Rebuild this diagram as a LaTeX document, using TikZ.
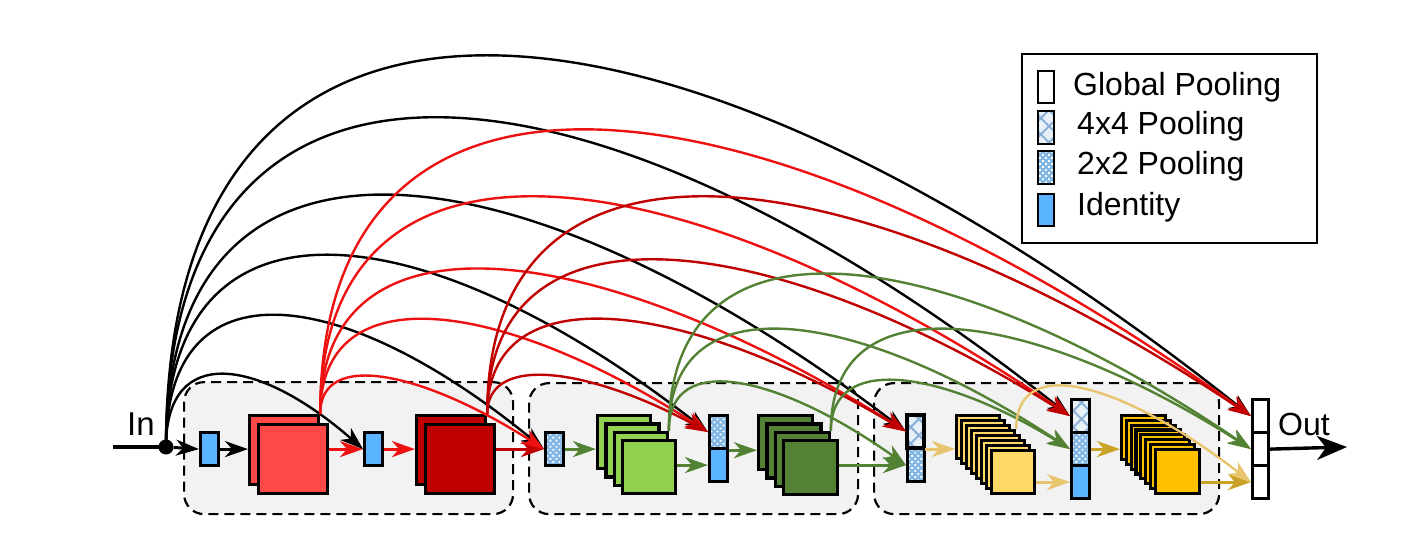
\documentclass[tikz,border=0pt]{standalone}
\usepackage{fontspec}
\setmainfont{Liberation Sans}
\usetikzlibrary{arrows.meta,calc,patterns.meta}
\definecolor{grpgray}{HTML}{F2F2F2}
\definecolor{idblue}{HTML}{5BB4FF}
\definecolor{poolblue}{HTML}{82B6E4}
\definecolor{hatchbg}{HTML}{E8F0F8}
\definecolor{hatchln}{HTML}{8AB0D8}
\definecolor{lred}{HTML}{FF4848}
\definecolor{dred}{HTML}{C00000}
\definecolor{lgreen}{HTML}{92D050}
\definecolor{dgreen}{HTML}{548235}
\definecolor{lylw}{HTML}{FFD966}
\definecolor{orng}{HTML}{FFC000}
\definecolor{arcred}{HTML}{EE1111}
\definecolor{arcdred}{HTML}{C00000}
\definecolor{arcgreen}{HTML}{548235}
\definecolor{arcylw}{HTML}{E8C46E}
\definecolor{arcgold}{HTML}{C9A227}
\newcommand{\skiparc}[4]{\draw[skiparc,#1] (#2) .. controls ($(#2)+(0,-1.4*#4)$) and ($(#2)!0.47!(#3)+(0,-1.22*#4)$) .. (#3);}
\tikzset{
  grp/.style={draw, dash pattern=on 10pt off 6pt, line width=2.2pt, rounded corners=20pt, fill=grpgray, anchor=north west, inner sep=0pt},
  sq/.style={draw, line width=3.2pt, inner sep=0pt, anchor=north west, minimum size=#1pt},
  rc/.style 2 args={draw, line width=3.2pt, inner sep=0pt, anchor=north west, minimum width=#1pt, minimum height=#2pt},
  ptwo/.style={preaction={fill=poolblue}, pattern={Dots[distance=4.3pt,radius=1.3pt,angle=45]}, pattern color=white},
  pfour/.style={preaction={fill=hatchbg}, pattern={Hatch[distance=11.5pt,angle=45,line width=2pt]}, pattern color=hatchln},
  skiparc/.style={line width=2.4pt, -{Stealth[length=23pt,width=16pt,inset=7pt]}},
  harr/.style={line width=3pt, -{Stealth[length=23pt,width=16pt,inset=7pt]}},
  lbl/.style={anchor=base west, inner sep=0pt, font=\fontsize{32}{38}\selectfont},
}
\begin{document}
\begin{tikzpicture}[x=1pt,y=-1pt]
\useasboundingbox (0,0) rectangle (1414,541);
% group boxes
\node[grp, minimum width=329pt, minimum height=132pt] (grp1) at (183,381) {};
\node[grp, minimum width=329pt, minimum height=131pt] (grp2) at (528,382) {};
\node[grp, minimum width=345pt, minimum height=131pt] (grp3) at (873,382) {};
% block 1
\node[rc={18}{33}, fill=idblue] (id1) at (199,431) {};
\node[sq=69, fill=lred] (rb) at (248,414) {};
\node[sq=69, fill=lred] (rf) at (257,423) {};
\node[rc={18}{33}, fill=idblue] (id2) at (363,431) {};
\node[sq=69, fill=dred] (db) at (415,414) {};
\node[sq=69, fill=dred] (df) at (424,423) {};
% block 2
\node[rc={18}{33}, ptwo] (pl2) at (544,431) {};
\foreach \i in {0,1,2,3} \node[sq=53, fill=lgreen] (g\i) at ({596+8.33*\i},{414+8.33*\i}) {};
\node[rc={18}{33}, ptwo] (t2a) at (708,414) {};
\node[rc={18}{33}, fill=idblue] (t2b) at (708,447) {};
\foreach \i in {0,1,2,3} \node[sq=54, fill=dgreen] (dg\i) at ({757+8.33*\i},{414+8.33*\i}) {};
% block 3
\node[rc={17}{33}, pfour] (b3a) at (906,414) {};
\node[rc={17}{33}, ptwo] (b3b) at (906,447) {};
\foreach \i in {0,...,7} \node[sq=43, fill=lylw] (ly\i) at ({955+5*\i},{414+5*\i}) {};
\node[rc={18}{33}, pfour] (t3a) at (1070,398) {};
\node[rc={18}{33}, ptwo] (t3b) at (1070,431) {};
\node[rc={18}{33}, fill=idblue] (t3c) at (1070,464) {};
\foreach \i in {0,...,7} \node[sq=44, fill=orng] (or\i) at ({1120+4.8*\i},{414+4.8*\i}) {};
% global pooling
\node[rc={16}{33}, fill=white] (gla) at (1251,398) {};
\node[rc={16}{33}, fill=white] (glb) at (1251,431) {};
\node[rc={16}{33}, fill=white] (glc) at (1251,464) {};
% input / output
\node[circle, fill=black, inner sep=0pt, minimum size=15pt] (dot) at (166,447) {};
\coordinate (instart) at (113,447);
\coordinate (outend) at (1347,447);
\draw[line width=3.4pt] (instart) -- (dot.center);
\draw[line width=3.4pt, -{Stealth[length=30pt,width=24pt,inset=9pt]}] (glb.east) -- (outend);
\node[lbl, font=\fontsize{33}{40}\selectfont] (tin) at (127,435) {In};
\node[lbl] (tout) at (1278,435) {Out};
% horizontal arrows
\draw[harr] (dot) -- (id1.west);
\draw[harr] (id1.east) -- (rb.west |- id1.east);
\draw[harr, arcred] (rf.east |- id2.west) -- (id2.west);
\draw[harr, arcred] (id2.east) -- (db.west |- id2.east);
\draw[harr, arcdred] (df.east |- pl2.west) -- (pl2.west);
\draw[harr, arcgreen] (pl2.east) -- (g0.west |- pl2.east);
\draw[harr, arcgreen] (g3.east |- t2b.west) -- (t2b.west);
\draw[harr, arcgreen] (t2a.south east) -- (dg0.west |- t2a.south east);
\draw[harr, arcgreen] (dg3.east |- b3b.west) -- (b3b.west);
\draw[harr, arcylw] (b3a.south east) -- (ly0.west |- b3a.south east);
\draw[harr, arcylw] (ly7.east |- t3c.west) -- (t3c.west);
\draw[harr, arcgold] (t3b.east) -- (or0.west |- t3b.east);
\draw[harr, arcgold] (or7.east |- glc.west) -- (glc.west);
% skip arcs: input
\skiparc{black}{dot.center}{id2.west}{74}
\skiparc{black}{dot.center}{pl2.west}{134}
\skiparc{black}{dot.center}{t2a.west}{190}
\skiparc{black}{dot.center}{b3a.west}{251}
\skiparc{black}{dot.center}{t3a.west}{325}
\skiparc{black}{dot.center}{gla.west}{388}
% light red
\skiparc{arcred}{rb.north east}{pl2.west}{47}
\skiparc{arcred}{rb.north east}{t2a.west}{101}
\skiparc{arcred}{rb.north east}{b3a.west}{152}
\skiparc{arcred}{rb.north east}{t3a.west}{221}
\skiparc{arcred}{rb.north east}{gla.west}{289}
% dark red
\skiparc{arcdred}{db.north east}{t2a.west}{44}
\skiparc{arcdred}{db.north east}{b3a.west}{101}
\skiparc{arcdred}{db.north east}{t3a.west}{157}
\skiparc{arcdred}{db.north east}{gla.west}{221}
% light green
\skiparc{arcgreen}{g2.north east}{b3b.west}{58}
\skiparc{arcgreen}{g2.north east}{t3b.west}{108}
\skiparc{arcgreen}{g2.north east}{glb.west}{164}
% dark green
\skiparc{arcgreen}{dg2.north east}{t3b.west}{56}
\skiparc{arcgreen}{dg2.north east}{glb.west}{108}
% yellow
\skiparc{arcylw}{ly3.north east}{glc.west}{56}
% legend
\node[draw, line width=2.4pt, anchor=north west, minimum width=295pt, minimum height=189pt, inner sep=0pt, fill=white] (legend) at (1021,53) {};
\node[rc={16}{32}, line width=2.2pt, fill=white] (lgG) at (1037,70) {};
\node[rc={16}{33}, line width=2.2pt, pfour] (lg4) at (1037,110) {};
\node[rc={16}{33}, line width=2.2pt, ptwo] (lg2) at (1037,150) {};
\node[rc={16}{32}, line width=2.2pt, fill=idblue] (lgI) at (1037,193) {};
\node[lbl] (tG) at (1073,95) {Global Pooling};
\node[lbl] (t4) at (1077,134) {4x4 Pooling};
\node[lbl] (t2) at (1077,174) {2x2 Pooling};
\node[lbl] (tI) at (1077,215) {Identity};
\end{tikzpicture}
\end{document}
